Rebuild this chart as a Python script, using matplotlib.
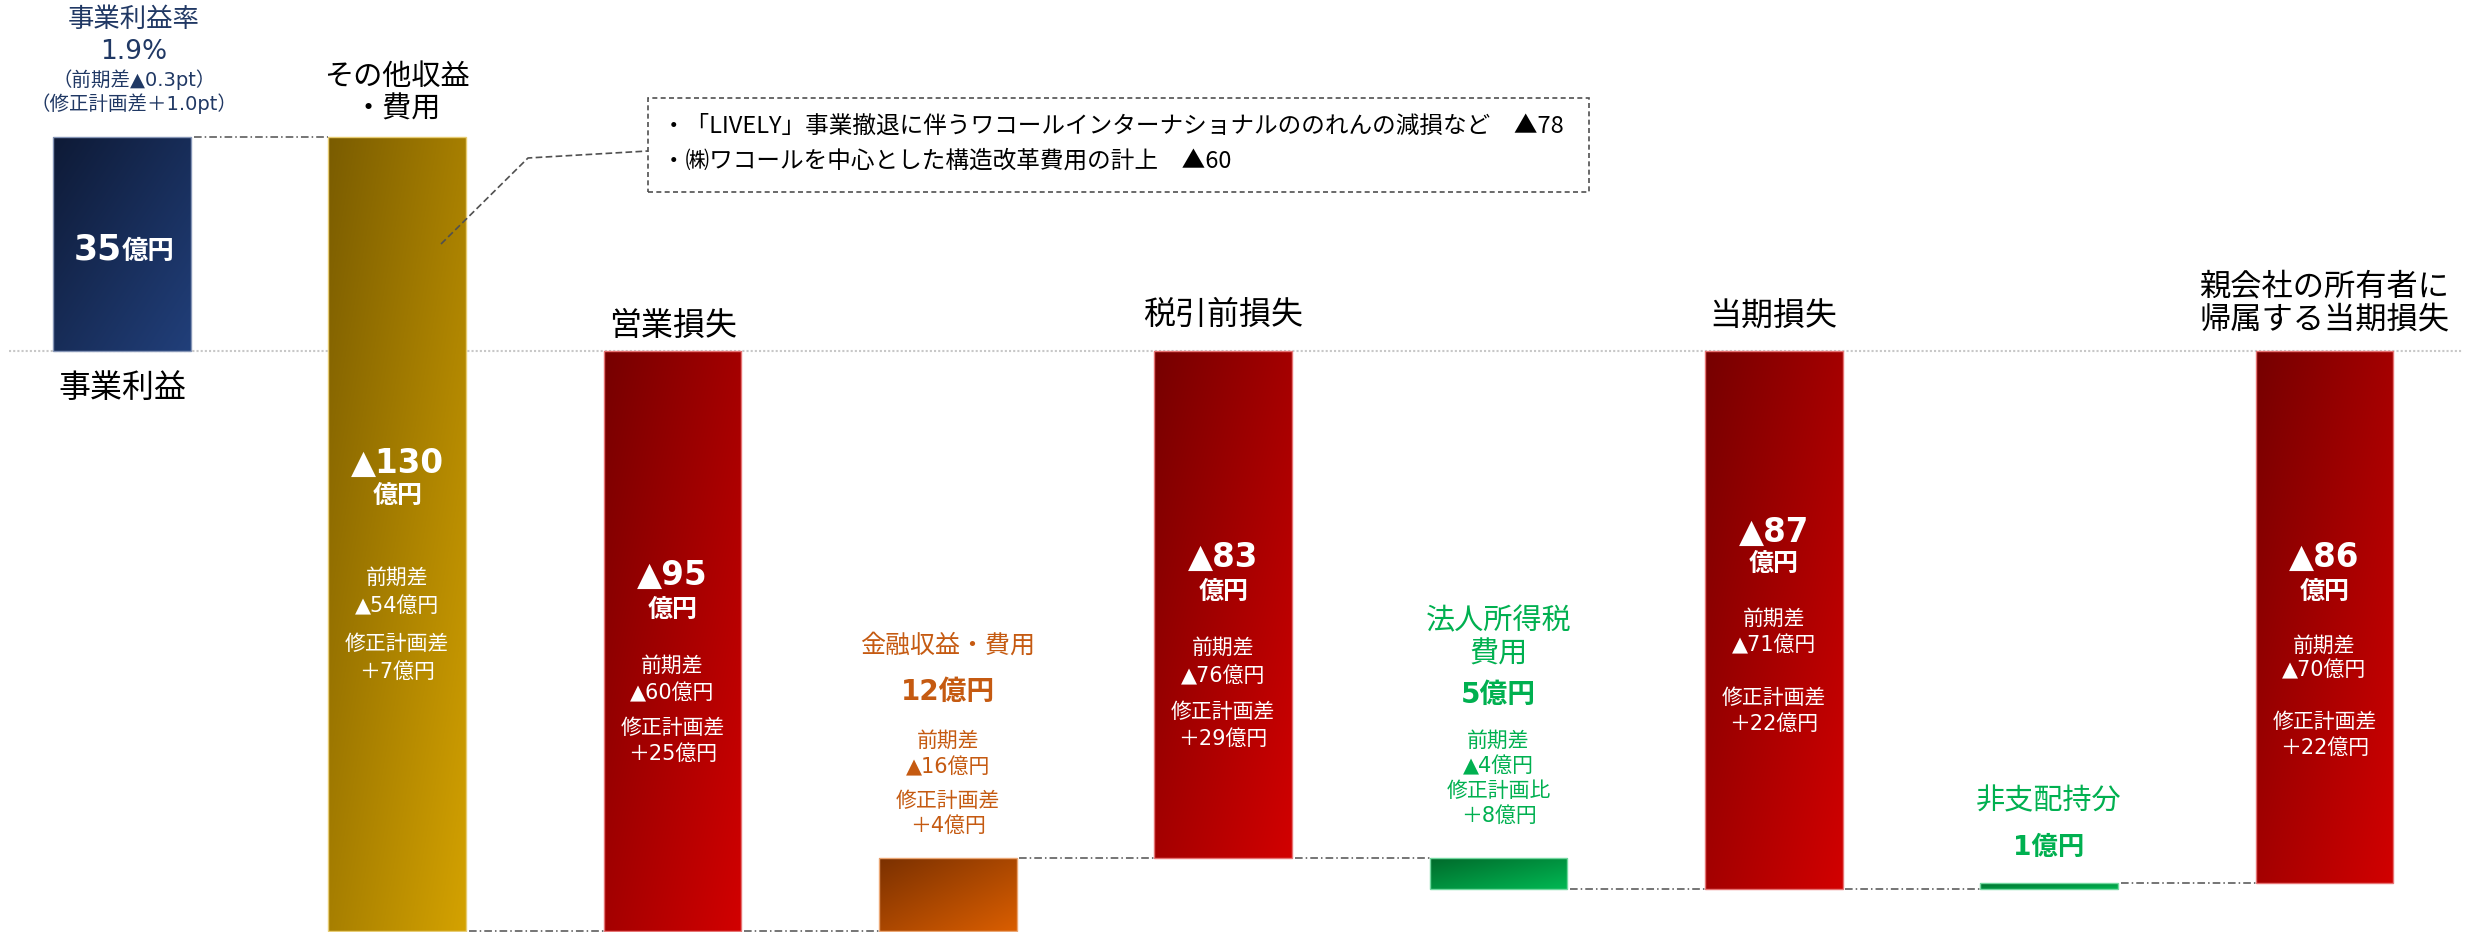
import numpy as np
import matplotlib
matplotlib.use('Agg')
import matplotlib.pyplot as plt
import matplotlib.transforms as mtransforms
from matplotlib.colors import to_rgb
from matplotlib.patches import Rectangle
from matplotlib.lines import Line2D

# Latin/digits in a Verdana-like face (as Meiryo does), CJK from Noto
plt.rcParams['font.family'] = ['DejaVu Sans', 'Noto Sans CJK JP']

# ---------------- data ----------------
categories = ['事業利益', 'その他収益\n・費用', '営業損失', '金融収益・費用', '税引前損失',
              '法人所得税\n費用', '当期損失', '非支配持分', '親会社の所有者に\n帰属する当期損失']
# None = subtotal bar drawn from zero to the running total
deltas = [35, -130, None, 12, None, -5, None, 1, None]
main_labels = ['35', '▲130', '▲95', '12億円', '▲83', '5億円', '▲87', '1億円', '▲86']
prev_diff = [None, '▲54億円', '▲60億円', '▲16億円', '▲76億円', '▲4億円', '▲71億円', None, '▲70億円']
plan_diff = [None, '＋7億円', '＋25億円', '＋4億円', '＋29億円', '＋8億円', '＋22億円', None, '＋22億円']
plan_head = [None, '修正計画差', '修正計画差', '修正計画差', '修正計画差', '修正計画比', '修正計画差', None, '修正計画差']
margin_lines = ['事業利益率', '1.9%', '（前期差▲0.3pt）', '（修正計画差＋1.0pt）']
note_lines = ['・「LIVELY」事業撤退に伴うワコールインターナショナルののれんの減損など　▲78',
              '・㈱ワコールを中心とした構造改革費用の計上　▲60']

grad = {
    'navy': ('#0e1a36', '#213f7a'),
    'gold': ('#7a5c00', '#d4a200'),
    'red': ('#760000', '#d20000'),
    'orange': ('#7a3000', '#da5e00'),
    'green': ('#006a2b', '#00b853'),
}
bar_style = ['navy', 'gold', 'red', 'orange', 'red', 'green', 'red', 'green', 'red']

NAVY = '#203864'
ORANGE = '#c55a11'
GREEN = '#00b050'

# ---------------- figure ----------------
W, H = 2471, 932
fig = plt.figure(figsize=(W / 100, H / 100), dpi=100)
ax = fig.add_axes([0, 0, 1, 1])
PX_X = 275.3   # px per category
X0 = 122       # px of first bar center
ZERO = 351     # px of zero line from top
PX_Y = 6.11    # px per 億円
ax.set_xlim(-X0 / PX_X, (W - X0) / PX_X)
ax.set_ylim(-(H - ZERO) / PX_Y, ZERO / PX_Y)
ax.axis('off')

# compute waterfall geometry
bottoms, heights, running = [], [], []
run = 0
for d in deltas:
    if d is None:
        bottoms.append(min(0, run)); heights.append(abs(run))
    else:
        start = run
        run = run + d
        bottoms.append(min(start, run)); heights.append(abs(d))
    running.append(run)

xs = np.arange(len(categories))
BW = 0.5

# zero line
ax.axhline(0, xmin=9 / W, xmax=2462 / W, color='#c8c8c8', lw=1.5, ls=(0, (1, 1)), zorder=1)

bars = ax.bar(xs, heights, bottom=bottoms, width=BW, facecolor='none', edgecolor='none', zorder=2)


def gradient_img(c1, c2, n=128):
    g = np.linspace(0, 1, n)
    X, Y = np.meshgrid(g, g)
    t = (X + Y) / 2.0
    a = np.array(to_rgb(c1)); b = np.array(to_rgb(c2))
    return a[None, None, :] * (1 - t[..., None]) + b[None, None, :] * t[..., None]


for rect, st in zip(bars, bar_style):
    x0, y0 = rect.get_x(), rect.get_y()
    w, h = rect.get_width(), rect.get_height()
    c1, c2 = grad[st]
    im = ax.imshow(gradient_img(c1, c2), extent=(x0, x0 + w, y0, y0 + h), origin='upper',
                   aspect='auto', zorder=2, interpolation='bilinear')
    im.set_clip_path(rect)
    edge = 0.55 * np.array(to_rgb(c2)) + 0.45 * np.ones(3)
    ax.add_patch(Rectangle((x0, y0), w, h, facecolor='none', edgecolor=edge, lw=1.0, zorder=3))

# connectors
for i in range(len(xs) - 1):
    ax.plot([xs[i] + BW / 2 + 0.01, xs[i + 1] - BW / 2], [running[i], running[i]],
            color='#505050', lw=1.1, ls=(0, (5, 2, 1, 2)), zorder=1)

trans = mtransforms.blended_transform_factory(ax.transData, fig.transFigure)


def T(i, py, s, size, color='white', weight='normal', ha='center', dx=0.0, va='center'):
    ax.text(i + dx, 1 - py / H, s, transform=trans, fontsize=size, color=color,
            fontweight=weight, ha=ha, va=va, zorder=5, linespacing=1.2)


# top-left margin text
dx0 = 12 / PX_X
T(0, 20, margin_lines[0], 19, NAVY, dx=dx0)
T(0, 52, margin_lines[1], 19, NAVY, dx=dx0)
T(0, 80, margin_lines[2], 14, NAVY, dx=dx0)
T(0, 104, margin_lines[3], 14, NAVY, dx=dx0)

# bar 0
T(0, 388, categories[0], 23, 'black')
T(0, 259, main_labels[0], 25, 'white', 'bold', ha='right', dx=0 / PX_X, va='baseline')
T(0, 259, '億円', 19, 'white', 'bold', ha='left', dx=0 / PX_X, va='baseline')

# bar 1
T(1, 93, categories[1], 21, 'black')
T(1, 463, main_labels[1], 23.5, 'white', 'bold')
T(1, 496, '億円', 18, 'white', 'bold')
T(1, 578, '前期差', 15); T(1, 606, prev_diff[1], 15)
T(1, 644, plan_head[1], 15); T(1, 672, plan_diff[1], 15)

# bar 2
T(2, 326, categories[2], 23, 'black')
T(2, 575, main_labels[2], 23.5, 'white', 'bold')
T(2, 610, '億円', 18, 'white', 'bold')
T(2, 666, '前期差', 15); T(2, 693, prev_diff[2], 15)
T(2, 728, plan_head[2], 15); T(2, 754, plan_diff[2], 15)

# bar 3 (orange, labels above)
T(3, 646, categories[3], 18, ORANGE)
T(3, 692, main_labels[3], 20, ORANGE, 'bold')
T(3, 741, '前期差', 15, ORANGE); T(3, 767, prev_diff[3], 15, ORANGE)
T(3, 801, plan_head[3], 15, ORANGE); T(3, 826, plan_diff[3], 15, ORANGE)

# bar 4
T(4, 315, categories[4], 23, 'black')
T(4, 557, main_labels[4], 23.5, 'white', 'bold')
T(4, 592, '億円', 18, 'white', 'bold')
T(4, 648, '前期差', 15); T(4, 676, prev_diff[4], 15)
T(4, 712, plan_head[4], 15); T(4, 739, plan_diff[4], 15)

# bar 5 (green, labels above)
T(5, 638, categories[5], 21, GREEN)
T(5, 695, main_labels[5], 20, GREEN, 'bold')
T(5, 741, '前期差', 15, GREEN); T(5, 766, prev_diff[5], 15, GREEN)
T(5, 791, plan_head[5], 15, GREEN); T(5, 816, plan_diff[5], 15, GREEN)

# bar 6
T(6, 317, categories[6], 23, 'black')
T(6, 532, main_labels[6], 23.5, 'white', 'bold')
T(6, 564, '億円', 18, 'white', 'bold')
T(6, 619, '前期差', 15); T(6, 645, prev_diff[6], 15)
T(6, 698, plan_head[6], 15); T(6, 724, plan_diff[6], 15)

# bar 7 (green, labels above)
T(7, 801, categories[7], 21, GREEN)
T(7, 848, main_labels[7], 19, GREEN, 'bold')

# bar 8
T(8, 304, categories[8], 22.5, 'black')
T(8, 557, main_labels[8], 23.5, 'white', 'bold')
T(8, 592, '億円', 18, 'white', 'bold')
T(8, 646, '前期差', 15); T(8, 670, prev_diff[8], 15)
T(8, 722, plan_head[8], 15); T(8, 748, plan_diff[8], 15)

# callout box and leader line
fig.add_artist(Rectangle((648 / W, 1 - 192 / H), (1589 - 648) / W, 94 / H, transform=fig.transFigure,
                         fill=False, edgecolor='#505050', lw=1.2, ls=(0, (3, 2)), zorder=6))
fig.add_artist(Line2D([441 / W, 528 / W, 648 / W], [1 - 244 / H, 1 - 158 / H, 1 - 151 / H],
                      transform=fig.transFigure, color='#505050', lw=1.2, ls=(0, (4, 2)), zorder=6))
fig.text(662 / W, 1 - 126 / H, note_lines[0], fontsize=17, color='black', ha='left', va='center',
         family=['Noto Sans CJK JP', 'DejaVu Sans'])
fig.text(662 / W, 1 - 161 / H, note_lines[1], fontsize=17, color='black', ha='left', va='center',
         family=['Noto Sans CJK JP', 'DejaVu Sans'])

fig.savefig('out.png', dpi=100, facecolor='white')
